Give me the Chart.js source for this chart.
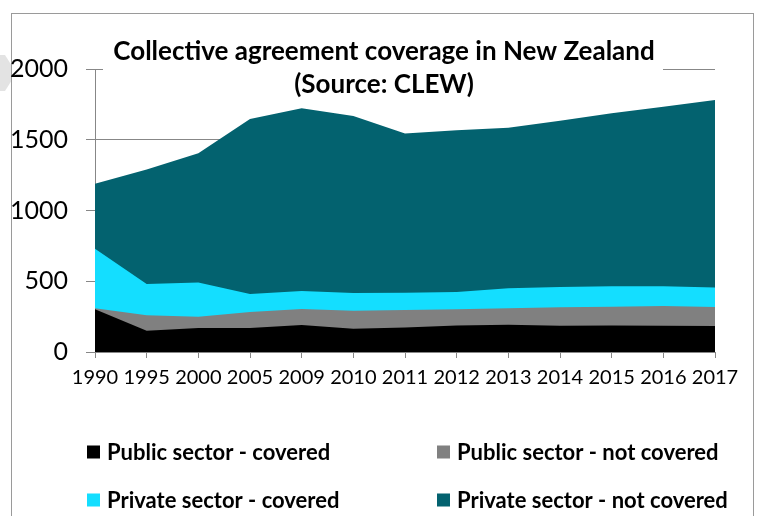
<!DOCTYPE html>
<html>
<head>
<meta charset="utf-8">
<script src="https://cdn.jsdelivr.net/npm/chart.js@4"></script>
<style>
  html, body { margin: 0; padding: 0; background: #fff; }
  #wrap { position: relative; width: 759px; height: 516px; overflow: hidden; }
  #cov { position: absolute; left: 0; top: 0; }
</style>
</head>
<body>
<div id="wrap"><canvas id="cov" width="759" height="516"></canvas></div>
<script>
// thousands of employees, stacked
var years = ['1990', '1995', '2000', '2005', '2009', '2010', '2011', '2012', '2013', '2014', '2015', '2016', '2017'];
var publicCovered = [302, 151, 170, 170, 191, 165, 174, 188, 193, 186, 188, 186, 184];
var publicNotCovered = [7, 108, 80, 113, 113, 127, 123, 114, 116, 130, 132, 139, 134];
var privateCovered = [421, 222, 242, 127, 127, 125, 122, 122, 141, 143, 144, 139, 137];
var privateNotCovered = [459, 809, 912, 1237, 1291, 1251, 1126, 1143, 1135, 1176, 1223, 1270, 1326];
var yTicks = [0, 500, 1000, 1500, 2000];

var titleLines = ['Collective agreement coverage in New Zealand', '(Source: CLEW)'];
var FONT = 'Lato, "Open Sans", sans-serif';

function series(label, data, color) {
    return {
        label: label,
        data: data,
        backgroundColor: color,
        borderColor: color,
        borderWidth: 0,
        pointRadius: 0,
        fill: true,
        tension: 0
    };
}

// frame, title box and the two-column legend
var decor = {
    id: 'decor',
    beforeDraw: (chart) => {
        var c = chart.ctx;
        c.save();
        c.fillStyle = '#e3e3e3';
        c.beginPath();
        c.moveTo(0, 55); c.lineTo(5, 55); c.lineTo(12, 66);
        c.lineTo(12, 80); c.lineTo(5, 91); c.lineTo(0, 91);
        c.closePath();
        c.fill();
        c.strokeStyle = '#9a9a9a';
        c.lineWidth = 1;
        c.strokeRect(11.5, 13.5, 742, 520);
        c.restore();
    },
    beforeDatasetsDraw: (chart) => {
        var c = chart.ctx;
        c.save();
        c.fillStyle = '#fff';
        c.fillRect(103, 30, 560, 68);
        c.fillStyle = '#000';
        c.font = 'bold 26px ' + FONT;
        c.textAlign = 'center';
        c.textBaseline = 'middle';
        c.fillText(titleLines[0], 384, 52);
        c.fillText(titleLines[1], 384, 85);
        c.restore();
    },
    afterDraw: (chart) => {
        var c = chart.ctx;
        var sets = chart.data.datasets;
        var cols = [87, 437];
        var rows = [452, 500];
        c.save();
        c.font = 'bold 22px ' + FONT;
        c.textBaseline = 'middle';
        sets.forEach((ds, i) => {
            var x = cols[i % 2];
            var y = rows[Math.floor(i / 2)];
            c.fillStyle = ds.backgroundColor;
            c.fillRect(x, y - 6.5, 13, 13);
            c.fillStyle = '#000';
            c.fillText(ds.label, x + 20, y + 1);
        });
        c.restore();
    }
};

new Chart('cov', {
    type: 'line',
    data: {
        labels: years,
        datasets: [
            series('Public sector - covered', publicCovered, '#000000'),
            series('Public sector - not covered', publicNotCovered, '#808080'),
            series('Private sector - covered', privateCovered, '#14deff'),
            series('Private sector - not covered', privateNotCovered, '#03626f')
        ]
    },
    options: {
        responsive: false,
        animation: false,
        layout: { padding: { left: 0, right: 44, top: 69, bottom: 124 } },
        plugins: {
            legend: { display: false },
            title: { display: false },
            tooltip: { enabled: false }
        },
        scales: {
            x: {
                offset: false,
                grid: { drawOnChartArea: false, tickLength: 6, color: '#878787' },
                border: { color: '#878787' },
                ticks: { color: '#000', padding: 8, maxRotation: 0, autoSkip: false, font: { family: FONT, size: 20 } },
                afterFit: (s) => { s.height = 40; }
            },
            y: {
                stacked: true,
                min: 0,
                max: 2000,
                afterBuildTicks: (s) => { s.ticks = yTicks.map((v) => ({ value: v })); },
                grid: { color: '#878787', tickLength: 9 },
                border: { color: '#878787' },
                ticks: {
                    color: '#000',
                    padding: 18,
                    font: { family: FONT, size: 25 },
                    callback: (v) => String(v)
                },
                afterFit: (s) => { s.width = 95; }
            }
        }
    },
    plugins: [decor]
});
</script>
</body>
</html>
